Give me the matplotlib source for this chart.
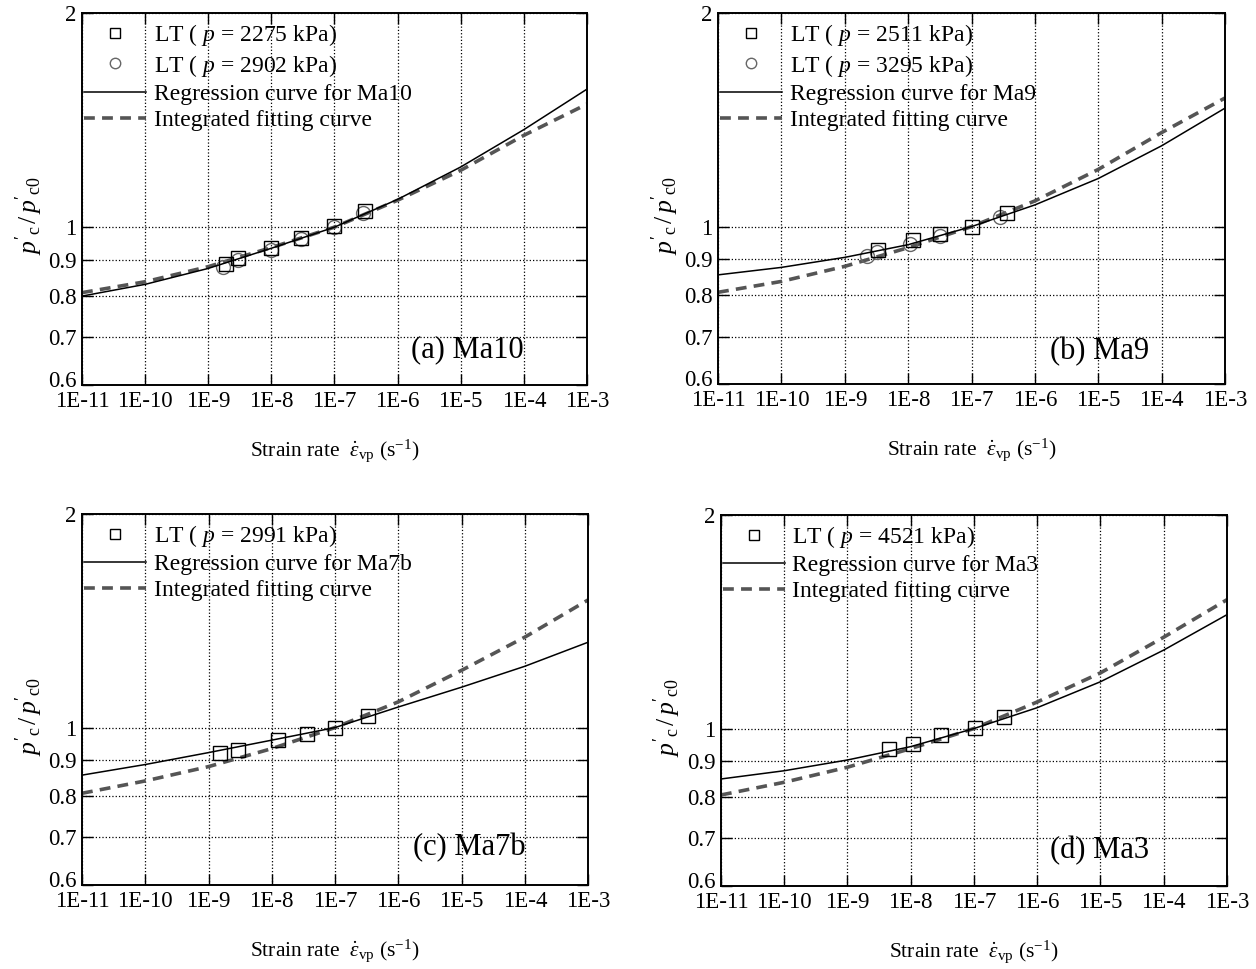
import matplotlib
matplotlib.use("Agg")
import matplotlib.pyplot as plt
from matplotlib.ticker import FixedLocator, FixedFormatter, LogLocator, NullLocator
from matplotlib.transforms import ScaledTranslation

plt.rcParams['font.family'] = ['Liberation Serif', 'DejaVu Serif']
plt.rcParams['mathtext.fontset'] = 'custom'
plt.rcParams['mathtext.rm'] = 'Liberation Serif'
plt.rcParams['mathtext.it'] = 'Liberation Serif:italic'

# strain rate at each decade (s^-1)
decades = [1e-11, 1e-10, 1e-9, 1e-8, 1e-7, 1e-6, 1e-5, 1e-4, 1e-3]
xtick_labels = ['1E-11', '1E-10', '1E-9', '1E-8', '1E-7', '1E-6', '1E-5', '1E-4', '1E-3']
ytick_vals = [0.6, 0.7, 0.8, 0.9, 1, 2]
ytick_labels = ['0.6', '0.7', '0.8', '0.9', '1', '2']

# curves
ma10_reg = [0.800, 0.831, 0.875, 0.934, 1.0, 1.094, 1.215, 1.371, 1.563]
ma10_fit = [0.809, 0.838, 0.880, 0.936, 1.0, 1.091, 1.202, 1.346, 1.489]
ma9_reg = [0.855, 0.876, 0.905, 0.943, 1.0, 1.073, 1.169, 1.300, 1.469]
ma9_fit = [0.808, 0.837, 0.879, 0.934, 1.0, 1.087, 1.204, 1.357, 1.518]
ma7b_reg = [0.857, 0.887, 0.922, 0.960, 1.0, 1.069, 1.140, 1.220, 1.319]
ma7b_fit = [0.808, 0.841, 0.881, 0.934, 1.0, 1.087, 1.204, 1.341, 1.513]
ma3_reg = [0.849, 0.872, 0.903, 0.943, 1.0, 1.070, 1.164, 1.290, 1.447]
ma3_fit = [0.806, 0.840, 0.882, 0.937, 1.0, 1.090, 1.198, 1.345, 1.519]

# test points (LT)
ma10_sq_x = [1.9e-9, 3.0e-9, 1.0e-8, 3.0e-8, 1.0e-7, 3.05e-7]
ma10_sq_y = [0.889, 0.904, 0.934, 0.966, 1.003, 1.052]
ma10_ci_x = [1.7e-9, 3.0e-9, 1.0e-8, 3.0e-8, 1.0e-7, 2.8e-7]
ma10_ci_y = [0.880, 0.899, 0.928, 0.961, 1.0, 1.047]
ma9_sq_x = [3.3e-9, 1.17e-8, 3.16e-8, 1.0e-7, 3.6e-7]
ma9_sq_y = [0.927, 0.956, 0.975, 1.0, 1.044]
ma9_ci_x = [2.2e-9, 3.2e-9, 1.06e-8, 3.16e-8, 2.8e-7]
ma9_ci_y = [0.908, 0.922, 0.946, 0.970, 1.033]
ma7b_sq_x = [1.53e-9, 2.95e-9, 1.26e-8, 3.57e-8, 1.0e-7, 3.3e-7]
ma7b_sq_y = [0.922, 0.931, 0.960, 0.978, 1.0, 1.039]
ma3_sq_x = [4.55e-9, 1.1e-8, 2.98e-8, 1.04e-7, 2.95e-7]
ma3_sq_y = [0.935, 0.952, 0.980, 1.003, 1.039]

panels = [
    dict(pos=[0.0653, 0.6027, 0.402, 0.3839], tag='(a) Ma10', tag_xy=(0.764, 0.094),
         reg=ma10_reg, fit=ma10_fit, name='Ma10',
         pts=[(ma10_sq_x, ma10_sq_y, 's', 'LT ( $p$ = 2275 kPa)'),
              (ma10_ci_x, ma10_ci_y, 'o', 'LT ( $p$ = 2902 kPa)')]),
    dict(pos=[0.5717, 0.6037, 0.4037, 0.3829], tag='(b) Ma9', tag_xy=(0.753, 0.088),
         reg=ma9_reg, fit=ma9_fit, name='Ma9',
         pts=[(ma9_sq_x, ma9_sq_y, 's', 'LT ( $p$ = 2511 kPa)'),
              (ma9_ci_x, ma9_ci_y, 'o', 'LT ( $p$ = 3295 kPa)')]),
    dict(pos=[0.0653, 0.0867, 0.4029, 0.3829], tag='(c) Ma7b', tag_xy=(0.765, 0.10),
         reg=ma7b_reg, fit=ma7b_fit, name='Ma7b',
         pts=[(ma7b_sq_x, ma7b_sq_y, 's', 'LT ( $p$ = 2991 kPa)')]),
    dict(pos=[0.574, 0.0857, 0.4029, 0.3829], tag='(d) Ma3', tag_xy=(0.749, 0.095),
         reg=ma3_reg, fit=ma3_fit, name='Ma3',
         pts=[(ma3_sq_x, ma3_sq_y, 's', 'LT ( $p$ = 4521 kPa)')]),
]

fig = plt.figure(figsize=(12.56, 9.69), dpi=100)

for p in panels:
    ax = fig.add_axes(p['pos'])
    handles = []
    for xs, ys, mk, lab in p['pts']:
        if mk == 's':
            h, = ax.plot(xs, ys, 's', ms=9.5, mfc='none', mec='black', mew=1.0, label=lab, zorder=4)
        else:
            h, = ax.plot(xs, ys, 'o', ms=10, mfc='none', mec='#666666', mew=1.0, label=lab, zorder=3)
        handles.append(h)
    h1, = ax.plot(decades, p['reg'], '-', color='black', lw=1.1,
                  label='Regression curve for ' + p['name'], zorder=5)
    h2, = ax.plot(decades, p['fit'], '--', color='#555555', lw=2.6, dashes=(3, 2),
                  label='Integrated fitting curve', zorder=2)
    handles += [h1, h2]

    ax.set_xscale('log')
    ax.set_yscale('log')
    ax.set_xlim(1e-11, 1e-3)
    ax.set_ylim(0.6, 2)

    ax.xaxis.set_major_locator(FixedLocator(decades))
    ax.xaxis.set_major_formatter(FixedFormatter(xtick_labels))
    ax.xaxis.set_minor_locator(LogLocator(base=10, subs=range(2, 10), numticks=20))
    ax.yaxis.set_major_locator(FixedLocator(ytick_vals))
    ax.yaxis.set_major_formatter(FixedFormatter(ytick_labels))
    ax.tick_params(which='major', direction='in', top=True, right=True, length=8, width=1,
                   labelsize=16.5, pad=4)
    ax.tick_params(which='minor', direction='in', top=True, right=True, length=4, width=0.8)
    ax.minorticks_on()
    ax.yaxis.set_minor_locator(NullLocator())
    ax.grid(True, which='major', linestyle=':', color='black', lw=0.9)
    for s in ax.spines.values():
        s.set_linewidth(1.4)

    # lift the bottom "0.6" label a little, as in the original
    t0 = ax.yaxis.get_major_ticks()[0]
    t0.label1.set_transform(t0.label1.get_transform() +
                            ScaledTranslation(0, 4 / 72, fig.dpi_scale_trans))

    ax.set_xlabel(r"Strain rate  $\dot{\varepsilon}_{\rm vp}$ (s$^{-1}$)", fontsize=15.5)
    ax.xaxis.set_label_coords(0.5, -0.14)
    ax.set_ylabel(r"$p'_{\rm c}\,/\,p'_{\rm c0}$", fontsize=18.5)
    ax.yaxis.set_label_coords(-0.074, 0.455)

    ax.text(p['tag_xy'][0], p['tag_xy'][1], p['tag'], transform=ax.transAxes,
            fontsize=22, ha='center', va='center')

    ax.legend(handles=handles, loc='upper left', bbox_to_anchor=(-0.014, 1.0), frameon=False,
              fontsize=17, handlelength=2.65, handletextpad=0.3, labelspacing=0.2,
              borderaxespad=0.0, borderpad=0.38, markerscale=0.75)

fig.savefig('out.png', dpi=100)
